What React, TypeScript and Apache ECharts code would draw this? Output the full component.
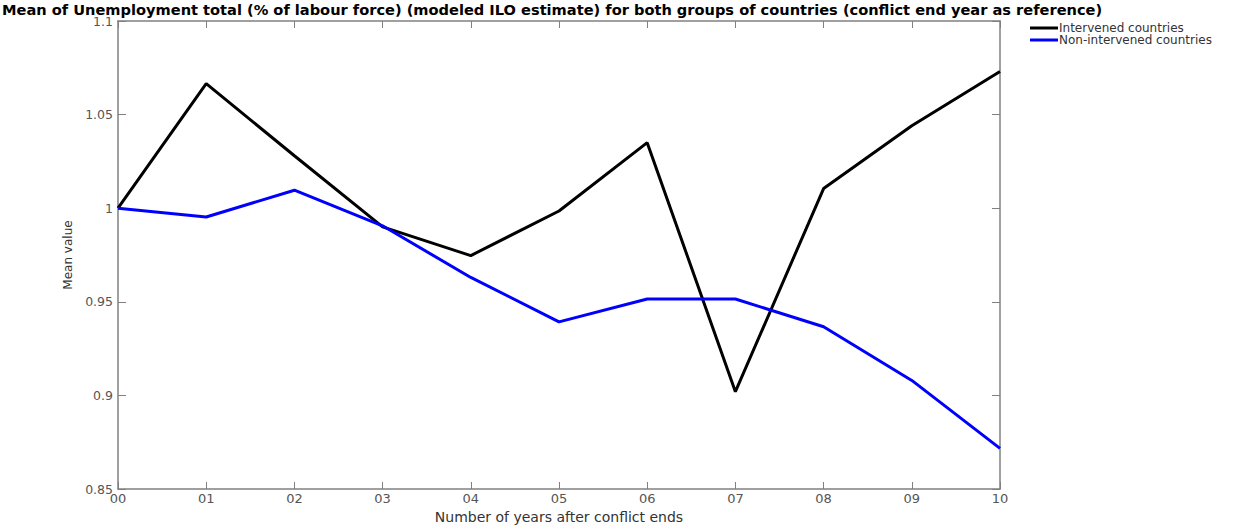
import React, { useEffect, useRef } from "react";
import * as echarts from "echarts";

const categories = ["00", "01", "02", "03", "04", "05", "06", "07", "08", "09", "10"];
const intervened = [1.0, 1.0665, 1.028, 0.99, 0.9747, 0.9985, 1.035, 0.902, 1.0105, 1.044, 1.073];
const nonIntervened = [1.0, 0.9953, 1.0096, 0.9906, 0.963, 0.9393, 0.9515, 0.9515, 0.9367, 0.908, 0.8717];
const yTicks = [0.85, 0.9, 0.95, 1, 1.05, 1.1];

const titleText =
  "Mean of Unemployment total (% of labour force) (modeled ILO estimate) for both groups of countries (conflict end year as reference)";

export default function App() {
  const ref = useRef<HTMLDivElement>(null);
  useEffect(() => {
    if (!ref.current) return;
    const chart = echarts.init(ref.current, undefined, { renderer: "svg" });
    const axisColor = "#808080";
    const labelColor = "#555";
    const font = "DejaVu Sans";
    chart.setOption({
      animation: false,
      backgroundColor: "#fff",
      title: {
        text: titleText,
        left: 2,
        top: 2,
        padding: 0,
        textStyle: { fontFamily: font, fontWeight: "bold", fontSize: 14.6, color: "#000" },
      },
      legend: {
        orient: "vertical",
        left: 1030,
        top: 22,
        padding: 0,
        itemWidth: 28,
        itemHeight: 3,
        itemGap: 0,
        icon: "rect",
        textStyle: { fontFamily: font, fontSize: 12, lineHeight: 12, color: "#333", padding: [0, 0, 0, -4] },
        data: ["Intervened countries", "Non-intervened countries"],
      },
      grid: { left: 118, right: 242, top: 21, bottom: 35, containLabel: false },
      xAxis: [
        {
          type: "category",
          data: categories,
          boundaryGap: false,
          name: "Number of years after conflict ends",
          nameLocation: "middle",
          nameGap: 21,
          nameTextStyle: { fontFamily: font, fontSize: 14, color: "#333" },
          axisLine: { lineStyle: { color: axisColor, width: 1.5 } },
          axisTick: { inside: true, length: 7, lineStyle: { color: axisColor } },
          axisLabel: { fontFamily: font, fontSize: 13, color: labelColor, margin: 3 },
          splitLine: { show: false },
        },
        {
          type: "category",
          data: categories,
          boundaryGap: false,
          position: "top",
          axisLine: { lineStyle: { color: axisColor, width: 1.5 } },
          axisTick: { inside: true, length: 7, lineStyle: { color: axisColor } },
          axisLabel: { show: false },
          splitLine: { show: false },
        },
      ],
      yAxis: [
        {
          type: "value",
          min: 0.85,
          max: 1.1,
          interval: 0.05,
          name: "Mean value",
          nameLocation: "middle",
          nameGap: 44,
          nameTextStyle: { fontFamily: font, fontSize: 12, color: "#333" },
          axisLine: { show: true, lineStyle: { color: axisColor, width: 1.5 } },
          axisTick: { show: true, inside: true, length: 8, lineStyle: { color: axisColor } },
          axisLabel: {
            fontFamily: font,
            fontSize: 12.5,
            color: labelColor,
            margin: 5,
            formatter: (v: number) => {
              const m = yTicks.find((t) => Math.abs(t - v) < 1e-6);
              return m !== undefined ? String(m) : "";
            },
          },
          splitLine: { show: false },
        },
        {
          type: "value",
          min: 0.85,
          max: 1.1,
          interval: 0.05,
          position: "right",
          axisLine: { show: true, lineStyle: { color: axisColor, width: 1.5 } },
          axisTick: { show: true, inside: true, length: 8, lineStyle: { color: axisColor } },
          axisLabel: { show: false },
          splitLine: { show: false },
        },
      ],
      series: [
        {
          name: "Intervened countries",
          type: "line",
          data: intervened,
          symbol: "none",
          color: "#000000",
          lineStyle: { width: 3, color: "#000000" },
        },
        {
          name: "Non-intervened countries",
          type: "line",
          data: nonIntervened,
          symbol: "none",
          color: "#0000ff",
          lineStyle: { width: 3, color: "#0000ff" },
        },
      ],
    });
    return () => chart.dispose();
  }, []);
  return <div ref={ref} style={{ width: 1242, height: 529, position: "absolute", left: 0, top: 0 }} />;
}
